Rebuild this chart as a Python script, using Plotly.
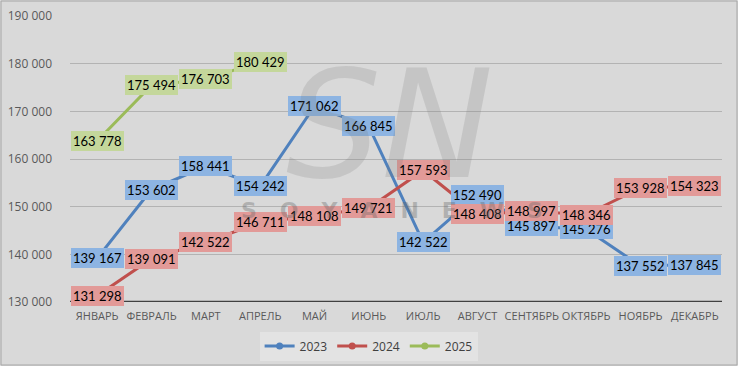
import plotly.graph_objects as go

months = ["ЯНВАРЬ", "ФЕВРАЛЬ", "МАРТ", "АПРЕЛЬ", "МАЙ", "ИЮНЬ", "ИЮЛЬ",
          "АВГУСТ", "СЕНТЯБРЬ", "ОКТЯБРЬ", "НОЯБРЬ", "ДЕКАБРЬ"]
v2023 = [139167, 153602, 158441, 154242, 171062, 166845, 142522,
         152490, 145897, 145276, 137552, 137845]
v2024 = [131298, 139091, 142522, 146711, 148108, 149721, 157593,
         148408, 148997, 148346, 153928, 154323]
v2025 = [163778, 175494, 176703, 180429]
y_ticks = [130000, 140000, 150000, 160000, 170000, 180000, 190000]

series = [
    ("2023", v2023, "#4f81bd", "#7ba7dc", "#8db4e2"),
    ("2024", v2024, "#c0504d", "#dc8582", "#e29a98"),
    ("2025", v2025, "#9bbb59", "#b8cf88", "#c4d79b"),
]

def fmt(v):
    return f"{v:,}".replace(",", " ")

fig = go.Figure()
annotations = []
for name, vals, line_c, mark_c, box_c in series:
    xs = list(range(len(vals)))
    fig.add_trace(go.Scatter(
        x=xs, y=vals, name=name, mode="lines+markers", showlegend=False,
        line=dict(color=line_c, width=3),
        marker=dict(color=mark_c, size=19, line=dict(width=0)),
        hoverinfo="skip",
    ))
    for x, v in zip(xs, vals):
        annotations.append(dict(
            x=x, y=v, xref="x", yref="y", text=fmt(v), showarrow=False,
            font=dict(family="Lato, Open Sans, sans-serif", size=13, color="#000000"),
            bgcolor=box_c, borderpad=2, borderwidth=0,
        ))

# legend-only entries
for name, vals, line_c, mark_c, box_c in series:
    fig.add_trace(go.Scatter(
        x=[None], y=[None], name=name, mode="lines+markers",
        line=dict(color=line_c, width=3),
        marker=dict(color=line_c, size=7),
    ))

# watermark
annotations.append(dict(
    x=0.49, y=0.62, xref="paper", yref="paper", text="<i>SN</i>", showarrow=False,
    font=dict(family="DejaVu Sans", size=150, color="rgba(120,120,120,0.2)"),
))
annotations.append(dict(
    x=0.494, y=0.27, xref="paper", yref="paper",
    text="<b>S   O   Y   A   N   E   W   S</b>", showarrow=False,
    font=dict(family="DejaVu Sans", size=22, color="rgba(100,100,100,0.35)"),
))

fig.update_layout(
    width=738, height=366,
    margin=dict(l=70, r=16, t=16, b=64, autoexpand=False),
    paper_bgcolor="#d9d9d9", plot_bgcolor="#d9d9d9",
    annotations=annotations,
    showlegend=True,
    legend=dict(
        orientation="h", x=0.458, xanchor="center", y=-0.154, yanchor="middle",
        bgcolor="#e3e3e3", font=dict(family="Open Sans, sans-serif", size=12, color="#404040"),
        itemwidth=30, tracegroupgap=0,
    ),
    separators=", ",
    xaxis=dict(
        range=[-0.5, 11.5], tickvals=list(range(len(months))), ticktext=months,
        showgrid=False, zeroline=False, showline=False, ticks="", tickangle=0,
        tickfont=dict(family="Open Sans, sans-serif", size=11, color="#595959"),
        ticklabelstandoff=6,
    ),
    yaxis=dict(
        range=[130000, 190000], tickvals=y_ticks, tickformat=",d",
        showgrid=True, gridcolor="#b3b3b3", gridwidth=1, zeroline=False,
        showline=False, ticks="",
        tickfont=dict(family="Open Sans, sans-serif", size=12, color="#595959"),
        ticklabelstandoff=17,
    ),
    shapes=[
        dict(type="line", xref="paper", yref="y", x0=0, x1=1, y0=130000, y1=130000,
             line=dict(color="#404040", width=2.5), layer="above"),
        dict(type="rect", xref="paper", yref="paper",
             x0=-69 / 652, x1=1 + 15 / 652, y0=-63 / 286, y1=1 + 15 / 286,
             line=dict(color="#a6a6a6", width=1), layer="below"),
    ],
)

fig.write_html("out.html", config={"displayModeBar": False},
               post_script="document.body.style.margin='0px';")
